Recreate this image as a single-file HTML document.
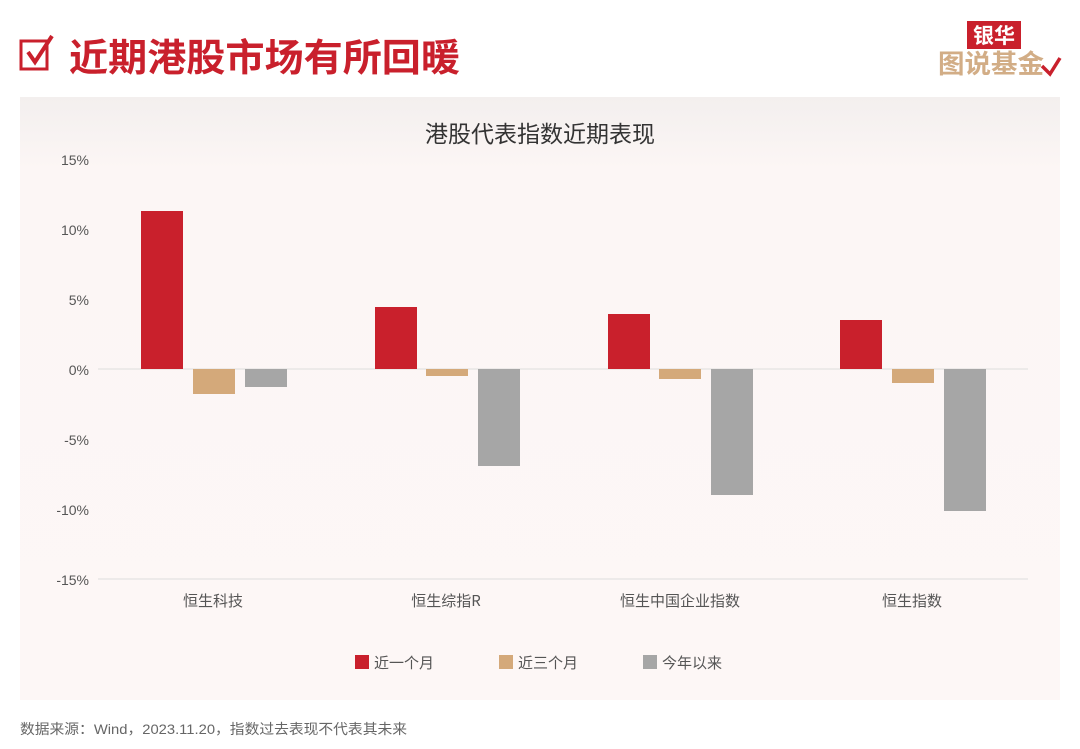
<!DOCTYPE html>
<html><head><meta charset="utf-8"><style>
body{margin:0;width:1080px;height:749px;background:#fff;overflow:hidden;font-family:"Liberation Sans","Noto Sans CJK SC",sans-serif;}
</style></head><body>
<svg width="1080" height="749" xmlns="http://www.w3.org/2000/svg" style="position:absolute;left:0;top:0">
<defs><linearGradient id="g" x1="0" y1="0" x2="0" y2="1"><stop offset="0" stop-color="#f3efee"/><stop offset="0.12" stop-color="#fcf6f5"/><stop offset="1" stop-color="#fdf7f6"/></linearGradient></defs>
<rect x="21" y="41" width="26" height="28" fill="none" stroke="#c9202c" stroke-width="3"/>
<path d="M28 52 L35 62 L52 36" fill="none" stroke="#c9202c" stroke-width="4"/>
<text x="69" y="71" font-size="38" font-weight="bold" fill="#c9202c" font-family="'Noto Sans CJK SC',sans-serif" textLength="391" lengthAdjust="spacingAndGlyphs">近期港股市场有所回暖</text>
<rect x="967" y="21" width="54" height="28" fill="#c9202c"/>
<text x="994" y="43" font-size="21" font-weight="bold" fill="#fff" text-anchor="middle" font-family="'Noto Sans CJK SC',sans-serif">银华</text>
<text x="938" y="73" font-size="26" font-weight="bold" fill="#d2ad86" font-family="'Noto Sans CJK SC',sans-serif" textLength="106" lengthAdjust="spacingAndGlyphs">图说基金</text>
<path d="M1042 66 L1050 74 L1060 58" fill="none" stroke="#c9202c" stroke-width="3.5"/>
<rect x="20" y="97" width="1040" height="603" fill="url(#g)"/>
<text x="540" y="142" font-size="23" fill="#333" text-anchor="middle" font-family="'Noto Sans CJK SC',sans-serif">港股代表指数近期表现</text>
<g font-size="14" fill="#555" text-anchor="end">
<text x="89" y="165">15%</text><text x="89" y="235">10%</text><text x="89" y="305">5%</text>
<text x="89" y="375">0%</text><text x="89" y="445">-5%</text><text x="89" y="515">-10%</text><text x="89" y="585">-15%</text>
</g>
<line x1="98" y1="369" x2="1028" y2="369" stroke="#ddd" stroke-width="1"/>
<line x1="98" y1="579" x2="1028" y2="579" stroke="#ddd" stroke-width="1"/>
<g>
<rect x="141" y="211" width="42" height="158" fill="#c9202c"/>
<rect x="193" y="369" width="42" height="25" fill="#d4a97a"/>
<rect x="245" y="369" width="42" height="18" fill="#a6a6a6"/>
<rect x="375" y="307" width="42" height="62" fill="#c9202c"/>
<rect x="426" y="369" width="42" height="7" fill="#d4a97a"/>
<rect x="478" y="369" width="42" height="97" fill="#a6a6a6"/>
<rect x="608" y="314" width="42" height="55" fill="#c9202c"/>
<rect x="659" y="369" width="42" height="10" fill="#d4a97a"/>
<rect x="711" y="369" width="42" height="126" fill="#a6a6a6"/>
<rect x="840" y="320" width="42" height="49" fill="#c9202c"/>
<rect x="892" y="369" width="42" height="14" fill="#d4a97a"/>
<rect x="944" y="369" width="42" height="142" fill="#a6a6a6"/>
</g>
<g font-size="15" fill="#555" text-anchor="middle" font-family="'Noto Sans CJK SC',sans-serif">
<text x="213" y="606">恒生科技</text><text x="446" y="606">恒生综指R</text>
<text x="680" y="606">恒生中国企业指数</text><text x="912" y="606">恒生指数</text>
</g>
<g font-size="15" fill="#555" font-family="'Noto Sans CJK SC',sans-serif">
<rect x="355" y="655" width="14" height="14" fill="#c9202c"/><text x="374" y="668">近一个月</text>
<rect x="499" y="655" width="14" height="14" fill="#d4a97a"/><text x="518" y="668">近三个月</text>
<rect x="643" y="655" width="14" height="14" fill="#a6a6a6"/><text x="662" y="668">今年以来</text>
</g>
<text x="20" y="734" font-size="14" fill="#666" font-family="'Liberation Sans','Noto Sans CJK SC',sans-serif" textLength="387" lengthAdjust="spacingAndGlyphs">数据来源：Wind，2023.11.20，指数过去表现不代表其未来</text>
</svg>
</body></html>
